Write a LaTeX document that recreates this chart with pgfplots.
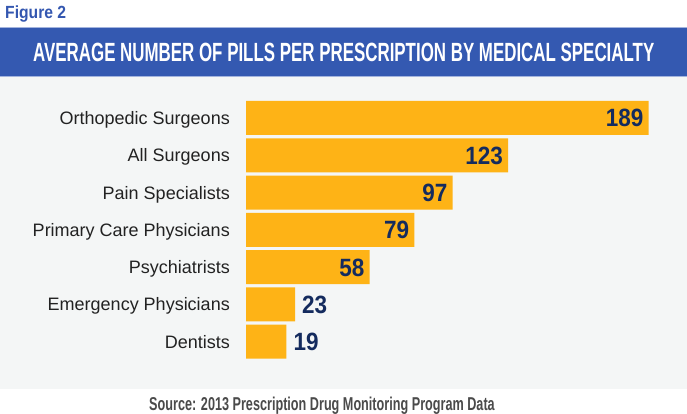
\documentclass[border=0pt]{standalone}
\usepackage{fontspec}
\setmainfont{Liberation Sans}
\newfontfamily\figfont[FakeStretch=0.89]{Liberation Sans}
\newfontfamily\titlefont{Liberation Sans}
\newfontfamily\srcfont[FakeStretch=0.68]{Liberation Sans}
\newfontfamily\valfont[FakeStretch=0.9]{Liberation Sans}
\usepackage{graphicx}
\usepackage{pgfplots}
\pgfplotsset{compat=1.18}
\definecolor{bannerblue}{HTML}{3459B1}
\definecolor{bannerline}{HTML}{A3B4DE}
\definecolor{figblue}{HTML}{3457B0}
\definecolor{bggray}{HTML}{F4F6F6}
\definecolor{bargold}{HTML}{FEB316}
\definecolor{valnavy}{HTML}{142B5E}
\definecolor{labelgray}{HTML}{222222}
\definecolor{srcgray}{HTML}{4A4A4A}
\begin{document}
\begin{tikzpicture}[x=1pt,y=1pt]
\path[use as bounding box, fill=white] (0,0) rectangle (687,413);
\fill[bggray] (0,24) rectangle (687,336.5);
\fill[bannerblue] (0,336.5) rectangle (687,385.3);
\draw[bannerline, line width=0.8pt] (0,385.3) -- (687,385.3);
\draw[bannerline, line width=0.8pt] (0,336.5) -- (687,336.5);
\node[anchor=base west, inner sep=0pt, text=figblue] at (5,394.7)
  {\figfont\bfseries\fontsize{17.6}{18}\selectfont Figure 2};
\node[anchor=base west, inner sep=0pt, text=white] at (33,351.3)
  {\resizebox{621pt}{18.4pt}{\titlefont\bfseries AVERAGE NUMBER OF PILLS PER PRESCRIPTION BY MEDICAL SPECIALTY}};
\node[anchor=base, inner sep=0pt, text=srcgray] at (322,3)
  {\srcfont\bfseries\fontsize{18.6}{19}\selectfont Source: 2013 Prescription Drug Monitoring Program Data};
\begin{axis}[
  at={(246pt,52.66pt)}, anchor=south west,
  scale only axis, width=402.7pt, height=261pt,
  xmin=0, xmax=189, ymin=-0.5, ymax=6.5,
  xbar, bar width=34pt,
  hide x axis,
  axis y line*=left, y axis line style={draw=none},
  ytick={0,...,6},
  yticklabels={Dentists, Emergency Physicians, Psychiatrists, Primary Care Physicians, Pain Specialists, All Surgeons, Orthopedic Surgeons},
  major tick length=0pt,
  yticklabel style={font=\fontsize{18}{18}\selectfont, text=labelgray, anchor=base east, inner sep=0pt, xshift=-16pt, yshift=-6.5pt},
  clip=false,
]
\addplot[xbar, bar shift=0pt, fill=bargold, draw=none,
  point meta=explicit symbolic, nodes near coords,
  nodes near coords style={anchor=base east, inner sep=0pt, xshift=-5pt, yshift=-9pt, text=valnavy, font=\valfont\bfseries\fontsize{25}{25}\selectfont}]
  coordinates {(189,6) [189] (123,5) [123] (97,4) [97] (79,3) [79] (58,2) [58]};
\addplot[xbar, bar shift=0pt, fill=bargold, draw=none,
  point meta=explicit symbolic, nodes near coords,
  nodes near coords style={anchor=base west, inner sep=0pt, xshift=7pt, yshift=-9pt, text=valnavy, font=\valfont\bfseries\fontsize{25}{25}\selectfont}]
  coordinates {(23,1) [23] (19,0) [19]};
\end{axis}
\end{tikzpicture}
\end{document}
